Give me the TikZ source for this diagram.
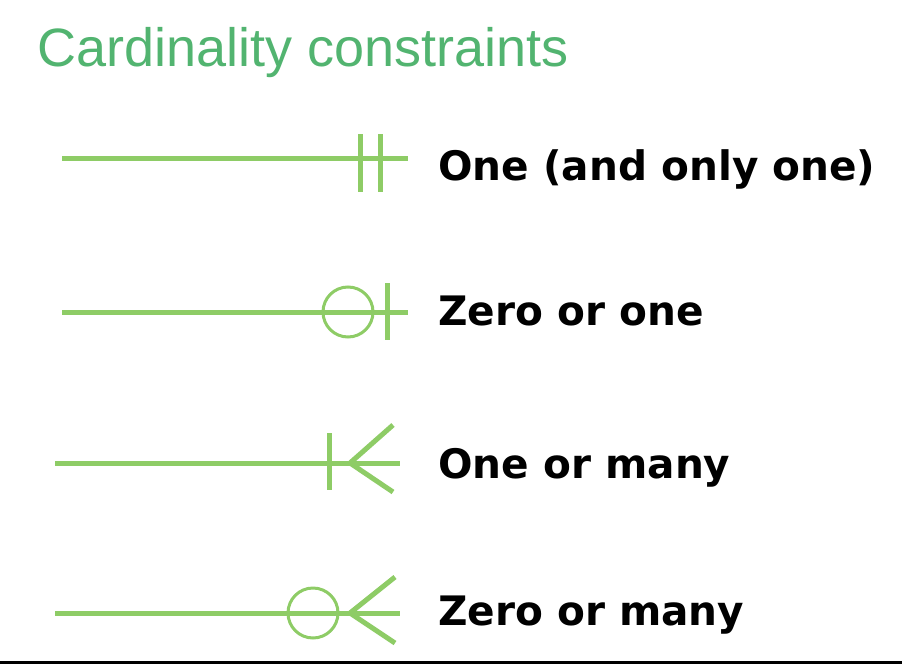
\documentclass[tikz,border=0pt]{standalone}
\usepackage{fontspec}
\setmainfont{Liberation Sans}
\newfontfamily\labelfont{DejaVu Sans}
\definecolor{titlegreen}{RGB}{82,180,112}
\definecolor{linegreen}{RGB}{142,204,102}
\begin{document}
\begin{tikzpicture}[x=1pt,y=-1pt,
  rel/.style={draw=linegreen,line width=5pt},
  ring/.style={draw=linegreen,line width=3pt,fill=none},
  lbl/.style={anchor=base west,inner sep=0pt,font=\labelfont\bfseries\fontsize{40.6}{48}\selectfont,text=black},
  ttl/.style={anchor=base west,inner sep=0pt,font=\fontsize{54}{64}\selectfont,text=titlegreen}]
\useasboundingbox[fill=white] (0,0) rectangle (902,664);
\fill[black] (0,660.5) rectangle (902,664);
\node[ttl] (title) at (37,66) {Cardinality constraints};
% Row 1: one and only one
\coordinate (a1) at (62,158); \coordinate (b1) at (408,158);
\draw[rel] (a1) -- (b1);
\draw[rel] (360,134) -- (360,192);
\draw[rel] (380,134) -- (380,192);
\node[lbl] (t1) at (438,180) {One (and only one)};
% Row 2: zero or one
\coordinate (a2) at (62,312); \coordinate (b2) at (408,312);
\draw[rel] (a2) -- (b2);
\draw[ring] (348,312) circle (25);
\draw[rel] (387,283) -- (387,340);
\node[lbl] (t2) at (438,325) {Zero or one};
% Row 3: one or many
\coordinate (a3) at (55,463); \coordinate (b3) at (400,463);
\draw[rel] (a3) -- (b3);
\draw[rel] (329,433) -- (329,490);
\draw[rel] (393,425) -- (350,463) -- (393,492);
\node[lbl] (t3) at (438,478) {One or many};
% Row 4: zero or many
\coordinate (a4) at (55,613); \coordinate (b4) at (400,613);
\draw[rel] (a4) -- (b4);
\draw[ring] (313,613) circle (25);
\draw[rel] (395,577) -- (350,613) -- (395,643);
\node[lbl] (t4) at (438,625) {Zero or many};
\end{tikzpicture}
\end{document}
